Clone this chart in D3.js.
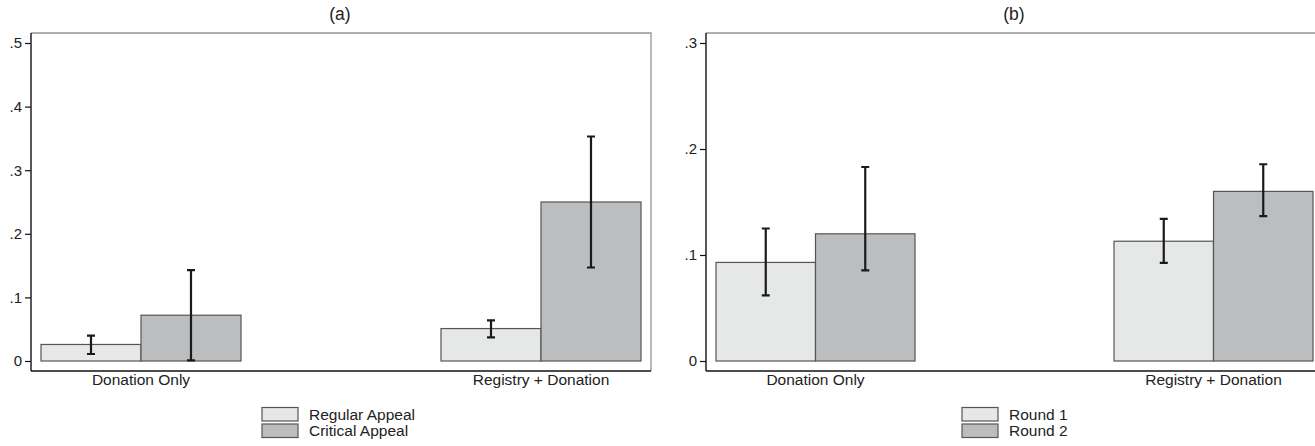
<!DOCTYPE html>
<html>
<head>
<meta charset="utf-8">
<script src="https://cdn.jsdelivr.net/npm/d3@7"></script>
<style>
    body { margin: 0; background: #fff; }
    svg { display: block; font-family: "Liberation Sans", Arial, sans-serif; }
</style>
</head>
<body>
<div id="chart"></div>
<script>
// ===================================
// Bar charts with confidence intervals
// ===================================

const categories = ['Donation Only', 'Registry + Donation'];

// Panel (a)
const seriesA = ['Regular Appeal', 'Critical Appeal'];
const regularMean = [0.026, 0.051];
const regularLow = [0.011, 0.037];
const regularHigh = [0.040, 0.064];
const criticalMean = [0.072, 0.250];
const criticalLow = [0.001, 0.147];
const criticalHigh = [0.143, 0.353];
const ticksA = [0, 0.1, 0.2, 0.3, 0.4, 0.5];

// Panel (b)
const seriesB = ['Round 1', 'Round 2'];
const round1Mean = [0.093, 0.113];
const round1Low = [0.062, 0.0925];
const round1High = [0.125, 0.134];
const round2Mean = [0.120, 0.160];
const round2Low = [0.0855, 0.1366];
const round2High = [0.183, 0.1856];
const ticksB = [0, 0.1, 0.2, 0.3];

const colors = ['#e6e7e7', '#bcbdbf'];

const svg = d3.select('#chart')
    .append('svg')
    .attr('width', 1315)
    .attr('height', 446);

function drawPanel(opts) {
    const { left, right, top, bottom, title, titleX, yMax, ticks, series, groups, legendX } = opts;
    const g = svg.append('g');

    const zeroY = bottom - 10;
    const y = d3.scaleLinear().domain([0, yMax]).range([zeroY, top + 10]);
    const x = d3.scaleBand().domain(categories).range([left + 10, right - 10])
        .paddingInner(0.5).paddingOuter(0);
    const xs = d3.scaleBand().domain(series).range([0, x.bandwidth()]);

    // frame: top/right in grey
    g.append('path')
        .attr('d', `M${left},${top}H${right}V${bottom}`)
        .attr('fill', 'none')
        .attr('stroke', '#959595')
        .attr('stroke-width', 1.3);

    // bars
    const rows = [];
    series.forEach((s, si) => {
        categories.forEach((c, ci) => {
            rows.push({ s, si, c, mean: groups[si].mean[ci], lo: groups[si].lo[ci], hi: groups[si].hi[ci] });
        });
    });

    g.append('g')
        .selectAll('rect')
        .data(rows)
        .join('rect')
        .attr('x', d => x(d.c) + xs(d.s))
        .attr('y', d => y(d.mean))
        .attr('width', xs.bandwidth())
        .attr('height', d => y(0) - y(d.mean))
        .attr('fill', d => colors[d.si])
        .attr('stroke', '#555')
        .attr('stroke-width', 1.2);

    // error bars
    const err = g.append('g')
        .attr('stroke', '#1a1a1a')
        .attr('stroke-width', 2.2)
        .attr('fill', 'none');
    err.selectAll('path')
        .data(rows)
        .join('path')
        .attr('d', d => {
            const cx = x(d.c) + xs(d.s) + xs.bandwidth() / 2;
            const y1 = y(d.hi), y2 = y(d.lo);
            return `M${cx - 4},${y1}H${cx + 4}M${cx},${y1}V${y2}M${cx - 4},${y2}H${cx + 4}`;
        });

    // y axis
    const fmt = d => d === 0 ? '0' : d3.format('.1f')(d).replace(/^0/, '');
    const yAxis = g.append('g')
        .attr('transform', `translate(${left},0)`)
        .call(d3.axisLeft(y).tickValues(ticks).tickFormat(fmt).tickSize(6).tickPadding(3));
    yAxis.select('.domain').remove();
    yAxis.selectAll('line').attr('stroke', '#111').attr('stroke-width', 1.2);
    yAxis.selectAll('text')
        .attr('font-size', 15)
        .attr('fill', '#222')
        .attr('font-family', '"Liberation Sans", Arial, sans-serif');

    g.append('line')
        .attr('x1', left).attr('x2', left)
        .attr('y1', top).attr('y2', bottom)
        .attr('stroke', '#111').attr('stroke-width', 1.4);
    g.append('line')
        .attr('x1', left).attr('x2', right)
        .attr('y1', bottom).attr('y2', bottom)
        .attr('stroke', '#111').attr('stroke-width', 1.4);

    // category labels
    g.append('g')
        .selectAll('text')
        .data(categories)
        .join('text')
        .attr('x', d => x(d) + x.bandwidth() / 2)
        .attr('y', bottom + 14)
        .attr('text-anchor', 'middle')
        .attr('font-size', 15.5)
        .attr('fill', '#222')
        .text(d => d);

    // title
    g.append('text')
        .attr('x', titleX)
        .attr('y', 20)
        .attr('text-anchor', 'middle')
        .attr('font-size', 17.5)
        .attr('fill', '#222')
        .text(title);

    // legend
    const legend = g.append('g')
        .selectAll('g')
        .data(series)
        .join('g')
        .attr('transform', (d, i) => `translate(${legendX},${407.5 + i * 16.5})`);
    legend.append('rect')
        .attr('width', 36)
        .attr('height', 13.5)
        .attr('fill', (d, i) => colors[i])
        .attr('stroke', '#555')
        .attr('stroke-width', 1.2);
    legend.append('text')
        .attr('x', 47)
        .attr('y', 12)
        .attr('font-size', 15.5)
        .attr('fill', '#222')
        .text(d => d);
}

drawPanel({
    left: 31, right: 651, top: 33, bottom: 371,
    title: '(a)', titleX: 340, yMax: 0.5, ticks: ticksA, series: seriesA,
    groups: [
        { mean: regularMean, lo: regularLow, hi: regularHigh },
        { mean: criticalMean, lo: criticalLow, hi: criticalHigh }
    ],
    legendX: 262
});

drawPanel({
    left: 706, right: 1323, top: 33, bottom: 371,
    title: '(b)', titleX: 1014, yMax: 0.3, ticks: ticksB, series: seriesB,
    groups: [
        { mean: round1Mean, lo: round1Low, hi: round1High },
        { mean: round2Mean, lo: round2Low, hi: round2High }
    ],
    legendX: 962
});
</script>
</body>
</html>
